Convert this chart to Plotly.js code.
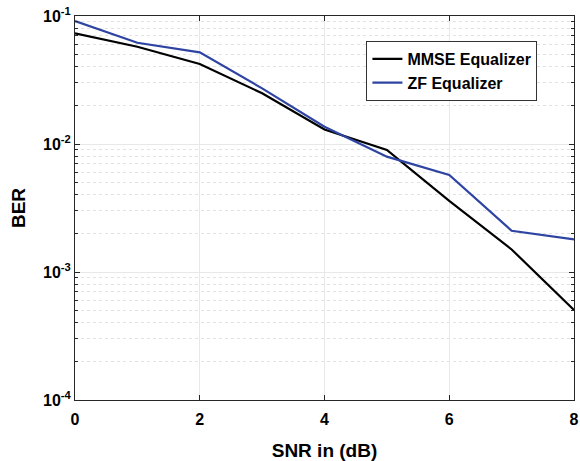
<!DOCTYPE html>
<html>
<head>
<meta charset="utf-8">
<script src="https://cdn.plot.ly/plotly-3.0.1.min.js"></script>
<style>
  html, body { margin: 0; padding: 0; background: #ffffff; }
  #chart { width: 580px; height: 461px; }
</style>
</head>
<body>
<div id="chart"></div>
<script>
// SNR sweep (dB)
const snrDb = [0, 1, 2, 3, 4, 5, 6, 7, 8];

// Bit error rate per equalizer
const berMmse = [0.0733, 0.0575, 0.0422, 0.0249, 0.0130, 0.00898, 0.00359, 0.00150, 0.000505];
const berZf   = [0.0914, 0.0618, 0.0520, 0.0272, 0.01365, 0.00796, 0.00573, 0.00210, 0.00180];

// Axis ticks
const xTicks = [0, 2, 4, 6, 8];
const yTickVals = [1e-4, 1e-3, 1e-2, 1e-1];
const yTickText = ['10<sup>-4</sup>', '10<sup>-3</sup>', '10<sup>-2</sup>', '10<sup>-1</sup>'];
const yMinorVals = [2e-4,3e-4,4e-4,5e-4,6e-4,7e-4,8e-4,9e-4,
                    2e-3,3e-3,4e-3,5e-3,6e-3,7e-3,8e-3,9e-3,
                    2e-2,3e-2,4e-2,5e-2,6e-2,7e-2,8e-2,9e-2];

const traces = [
  {
    x: snrDb, y: berMmse, name: 'MMSE Equalizer', mode: 'lines',
    line: { color: '#000000', width: 2.2 }
  },
  {
    x: snrDb, y: berZf, name: 'ZF Equalizer', mode: 'lines',
    line: { color: '#2E44A2', width: 2.2 }
  }
];

const fontBold = { family: 'Arial, "Liberation Sans", sans-serif', color: '#000000', weight: 'bold' };
const f = (size) => Object.assign({}, fontBold, { size: size });

const layout = {
  width: 580, height: 461,
  margin: { l: 75, r: 6, t: 16, b: 61 },
  paper_bgcolor: '#ffffff',
  plot_bgcolor: '#ffffff',
  showlegend: true,
  legend: {
    x: 0.584, y: 0.935, xanchor: 'left', yanchor: 'top',
    bgcolor: '#ffffff', bordercolor: '#333333', borderwidth: 1,
    font: f(16),
    tracegroupgap: 0, itemwidth: 30
  },
  xaxis: {
    range: [0, 8],
    tickvals: xTicks,
    ticktext: xTicks.map(String),
    ticks: 'inside', ticklen: 5, tickcolor: '#262626',
    showline: true, linecolor: '#262626', linewidth: 1, mirror: 'ticks',
    showgrid: true, gridcolor: '#e8e8e8', gridwidth: 1,
    zeroline: false,
    tickfont: f(16),
    ticklabelstandoff: 5,
    title: { text: 'SNR in (dB)', font: f(19), standoff: 16 }
  },
  yaxis: {
    type: 'log',
    range: [-4, -1],
    tickvals: yTickVals,
    ticktext: yTickText,
    ticks: 'inside', ticklen: 5, tickcolor: '#262626',
    showline: true, linecolor: '#262626', linewidth: 1, mirror: 'ticks',
    showgrid: true, gridcolor: '#e8e8e8', gridwidth: 1,
    zeroline: false,
    tickfont: f(16),
    minor: {
      tickvals: yMinorVals,
      ticks: 'inside', ticklen: 3, tickcolor: '#262626',
      showgrid: true, gridcolor: '#e2e2e2', gridwidth: 1, griddash: 'dot'
    },
    title: { text: 'BER', font: f(19), standoff: 12 }
  }
};

Plotly.newPlot('chart', traces, layout, { displayModeBar: false, staticPlot: true });
</script>
</body>
</html>
